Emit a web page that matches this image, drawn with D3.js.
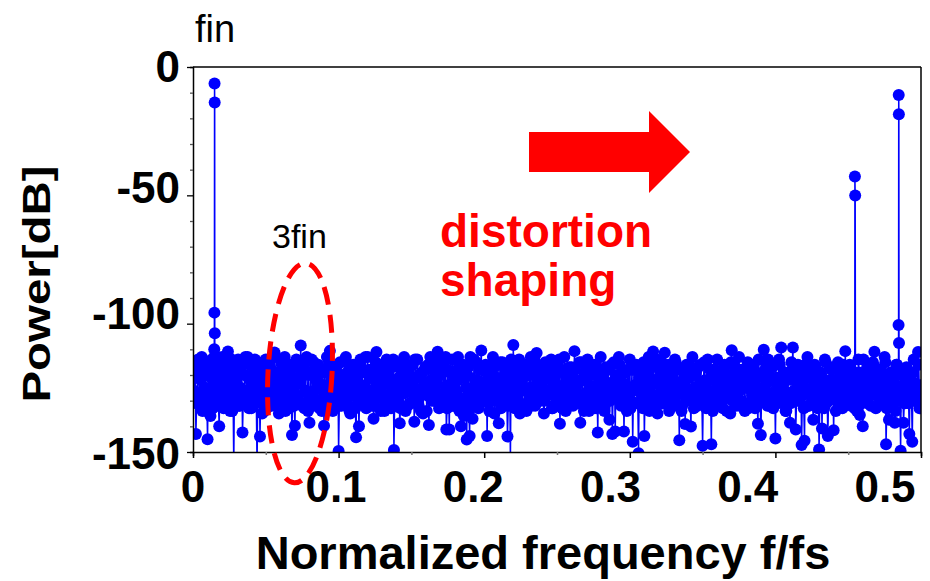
<!DOCTYPE html>
<html lang="en">
<head>
  <meta charset="UTF-8">
  <title>Output spectrum</title>
  <script src="https://d3js.org/d3.v7.min.js"></script>
  <style>
    body { margin: 0; background: #fff; font-family: "Liberation Sans", Arial, sans-serif; }
    svg text { font-family: "Liberation Sans", Arial, sans-serif; }
  </style>
</head>
<body>
  <div id="chart"></div>

  <script>
    // noise floor: one value per bin on the 0.001 fs grid ...
    const binStep = 0.001;
    const noiseDb = [
      -121, -115, -143, -128, -117, -132, -113, -126, -119, -134,
      -145, -118, -136, -114, -129, -123, -131, -116, -140, -127,
      -113, -133, -120, -125, -110.8, -130, -117, -134, -155, -122,
      -128, -114, -132, -119, -142.4, -126, -113, -131, -121, -116,
      -133, -124, -118, -129, -156, -115, -144, -127, -120, -134,
      -114, -130, -123, -117, -132, -126, -111.2, -129, -119, -135,
      -122, -116, -131, -113, -127, -120, -133, -118, -143.4, -125,
      -139.8, -114, -129, -121, -108.5, -132, -117, -126, -113, -134,
      -138.6, -119, -128, -115, -131, -122, -116, -133, -124, -118,
      -139.8, -127, -113, -130, -110.6, -125, -134, -117, -121, -129,
      -149.6, -115, -132, -120, -126, -113, -131, -118, -135, -123,
      -116, -128, -144.3, -121, -140, -114, -130, -125, -119, -133,
      -113, -127, -118, -132, -137, -122, -111, -129, -116, -134,
      -124, -119, -131, -114, -128, -121, -133, -117, -149.2, -126,
      -115, -130, -138.8, -120, -127, -113, -134, -123, -118, -131,
      -125, -116, -138.2, -129, -114, -132, -121, -119, -135, -124,
      -117, -128, -139.5, -113, -130, -122, -126, -115, -110.9, -133,
      -120, -129, -116, -131, -141.2, -118, -141.2, -125, -114, -132,
      -123, -127, -113, -134, -140, -119, -136, -121, -145.1, -117,
      -143.8, -126, -137, -114, -130, -122, -133, -118, -110.5, -128,
      -124, -116, -143.8, -131, -119, -127, -113, -135, -121, -129,
      -138.8, -115, -132, -123, -117, -130, -144, -120, -153, -126,
      -108.3, -133, -118, -128, -114, -131, -122, -125, -116, -134,
      -120, -129, -113, -127, -119, -132, -111.4, -124, -117, -130,
      -122, -135, -115, -128, -121, -126, -114, -133, -119, -131,
      -116, -125, -139, -118, -130, -113, -134, -123, -120, -128,
      -117, -132, -110.7, -126, -122, -129, -138.6, -115, -131, -121,
      -127, -114, -134, -119, -125, -130, -116, -133, -142.4, -122,
      -113, -128, -120, -131, -124, -118, -137.4, -126, -143, -115,
      -142, -121, -129, -116, -132, -123, -142, -119, -134, -127,
      -114, -130, -146, -118, -125, -131, -150.5, -122, -117, -133,
      -143.8, -120, -128, -113, -132, -124, -110.8, -129, -116, -135,
      -121, -127, -115, -131, -111.3, -126, -119, -134, -122, -117,
      -130, -114, -128, -123, -145.4, -118, -132, -125, -139.1, -116,
      -129, -121, -140.1, -113, -133, -120, -127, -117, -131, -124,
      -147.6, -115, -130, -122, -126, -118, -147, -134, -121, -128,
      -114, -131, -119, -125, -133, -116, -129, -123, -120, -135,
      -110.4, -127, -117, -132, -124, -113, -130, -121, -118, -134,
      -125, -115, -131, -122, -128, -116, -133, -120, -139, -126,
      -143.4, -119, -110.2, -130, -123, -114, -132, -127, -117, -129,
      -144.7, -121, -125, -116, -109.3, -131, -119, -134, -122, -128,
      -138.6, -115, -109.3, -126, -141.2, -120, -130, -124, -147.3, -118,
      -145.6, -127, -113, -132, -121, -129, -137.4, -116, -125, -133,
      -149, -119, -140.8, -126, -114, -131, -143.8, -122, -128, -117,
      -141.5, -124, -130, -115, -127, -121, -133, -118, -110.7, -129,
      -123, -116, -132, -125, -119, -128, -134, -114, -135.6, -126,
      -140, -120, -129, -117, -131, -122, -127, -115, -110.9, -133,
      -124, -118, -130, -121, -126, -113, -147, -128, -137.4, -119,
      -132, -123, -138.6, -116, -129, -125, -149.5, -120, -138.6, -131,
      -117, -127, -143, -122, -146, -114, -130, -124, -111, -133,
      -126
    ];

    // ... and the bins half-way between them, all inside the dense band
    const noiseMidDb = [
      -126, -119, -131, -114, -128, -122, -134, -117, -125, -130,
      -116, -129, -121, -133, -113, -127, -120, -132, -118, -124,
      -131, -115, -128, -123, -119, -134, -114, -126, -121, -129,
      -118, -132, -125, -116, -130, -120, -127, -113, -133, -122,
      -127, -121, -114, -131, -124, -118, -129, -135, -116, -123,
      -133, -117, -126, -120, -128, -113, -131, -124, -119, -127,
      -115, -130, -122, -134, -118, -125, -116, -129, -121, -132,
      -124, -128, -117, -123, -131, -119, -133, -115, -127, -120,
      -129, -114, -132, -126, -120, -130, -123, -118, -134, -125,
      -119, -131, -124, -115, -127, -133, -117, -128, -122, -116,
      -132, -120, -128, -125, -114, -129, -121, -134, -118, -126,
      -123, -133, -116, -130, -126, -117, -124, -131, -113, -128,
      -130, -118, -126, -121, -132, -115, -129, -123, -127, -119,
      -116, -134, -120, -128, -117, -131, -125, -114, -130, -122,
      -128, -121, -133, -118, -124, -127, -116, -132, -120, -126,
      -121, -127, -114, -131, -129, -120, -134, -119, -125, -117,
      -134, -116, -125, -122, -118, -130, -123, -127, -115, -131,
      -118, -130, -127, -113, -133, -124, -119, -128, -132, -121,
      -126, -122, -117, -129, -121, -116, -131, -125, -120, -134,
      -113, -128, -131, -124, -115, -132, -126, -118, -129, -123,
      -129, -119, -122, -134, -127, -121, -117, -130, -124, -116,
      -122, -133, -115, -126, -120, -128, -132, -121, -114, -127,
      -131, -117, -129, -119, -135, -123, -116, -126, -133, -120,
      -117, -125, -132, -128, -114, -130, -122, -119, -127, -124,
      -127, -130, -120, -116, -126, -118, -133, -124, -121, -129,
      -124, -114, -128, -133, -119, -127, -121, -131, -117, -125,
      -130, -126, -118, -123, -131, -115, -129, -122, -134, -119,
      -115, -131, -124, -120, -127, -133, -118, -125, -121, -132,
      -128, -120, -134, -117, -123, -126, -130, -116, -128, -122,
      -120, -127, -113, -130, -125, -119, -124, -132, -118, -126,
      -133, -118, -126, -124, -116, -131, -121, -127, -130, -115,
      -125, -129, -119, -134, -122, -117, -128, -123, -114, -131,
      -118, -124, -131, -120, -129, -126, -116, -133, -125, -121,
      -132, -115, -127, -123, -118, -134, -122, -120, -128, -126,
      -121, -130, -117, -128, -125, -119, -132, -124, -116, -129,
      -126, -122, -133, -114, -131, -127, -120, -118, -130, -123,
      -119, -128, -124, -130, -117, -122, -134, -126, -121, -115,
      -130, -116, -129, -121, -127, -132, -118, -123, -125, -131,
      -117, -133, -120, -126, -119, -128, -124, -131, -114, -127,
      -128, -121, -125, -117, -132, -120, -129, -116, -133, -122,
      -123, -131, -114, -129, -124, -126, -119, -134, -120, -127,
      -131, -118, -127, -122, -130, -116, -125, -121, -128, -133,
      -116, -126, -132, -119, -121, -129, -123, -117, -131, -124,
      -129, -120, -123, -133, -115, -127, -130, -125, -118, -122,
      -122, -134, -118, -125, -128, -121, -116, -132, -126, -119,
      -127, -117, -130, -120, -133, -124, -128, -119, -123, -131,
      -114, -129, -125, -131, -118, -132, -121, -126, -117, -128,
      -132, -123, -119, -127, -122, -115, -133, -120, -129, -125,
      -120, -126, -134, -116, -130, -128, -118, -124, -131, -121,
      -125, -131, -122, -128, -119, -123, -127, -130, -116, -124
    ];

    // tones: fin, and the shaped distortion near fs/2
    const spikeFreqs  = [0.0146, 0.0147, 0.0148, 0.0149, 0.01495, 0.4546, 0.4548, 0.4846, 0.4847, 0.4848, 0.4849];
    const spikeDb     = [-110, -95.7, -6.4, -13.8, -103.7, -42.7, -50.1, -100.5, -10.9, -18.4, -107.5];

    const xTicks = [0, 0.1, 0.2, 0.3, 0.4, 0.5];
    const yTicks = [0, -50, -100, -150];

    const width = 930, height = 581;
    const svg = d3.select("#chart").append("svg")
      .attr("width", width)
      .attr("height", height);

    const x = d3.scaleLinear().domain([0, 0.5]).range([193, 921]);
    const y = d3.scaleLinear().domain([-150, 0]).range([452, 67]);
    // the tick labels in the figure sit a little off the ticks
    const xLabel = d3.scaleLinear().domain([0, 0.1, 0.5]).range([193, 336, 885]);
    const yLabel = d3.scaleLinear().domain([0, -50, -100, -150]).range([66, 187, 313, 453]);

    const points = noiseDb.map((v, i) => ({ f: i * binStep, v: v }))
      .concat(noiseMidDb.map((v, i) => ({ f: (i + 0.5) * binStep, v: v })))
      .concat(spikeFreqs.map((f, i) => ({ f: f, v: spikeDb[i] })))
      .sort((a, b) => a.f - b.f);

    svg.append("clipPath").attr("id", "plotClip")
      .append("rect")
      .attr("x", x(0)).attr("y", y(0))
      .attr("width", x(0.5) - x(0)).attr("height", y(-150) - y(0));

    const plot = svg.append("g").attr("clip-path", "url(#plotClip)");

    plot.append("path")
      .datum(points)
      .attr("fill", "none")
      .attr("stroke", "#0000ff")
      .attr("stroke-width", 1.5)
      .attr("d", d3.line().x(d => x(d.f)).y(d => y(d.v)));

    plot.selectAll("circle")
      .data(points)
      .enter()
      .append("circle")
      .attr("cx", d => x(d.f))
      .attr("cy", d => y(d.v))
      .attr("r", 6)
      .attr("fill", "#0000ff");

    // frame
    svg.append("line")
      .attr("x1", x(0)).attr("x2", x(0.5)).attr("y1", y(0)).attr("y2", y(0))
      .attr("stroke", "#000").attr("stroke-width", 1.5);
    svg.append("line")
      .attr("x1", x(0.5)).attr("x2", x(0.5)).attr("y1", y(0)).attr("y2", y(-150))
      .attr("stroke", "#000").attr("stroke-width", 1.5);

    // x axis
    const xAxis = svg.append("g")
      .attr("transform", `translate(0,${y(-150)})`)
      .call(d3.axisBottom(x).tickValues(d3.range(0, 0.51, 0.05)).tickSize(4).tickFormat(""));
    xAxis.select(".domain").attr("stroke", "#000").attr("stroke-width", 1.5);
    xAxis.selectAll(".tick line")
      .attr("stroke", (d, i) => i % 2 ? "#777" : "#000")
      .attr("stroke-width", 1.5)
      .attr("y2", (d, i) => i % 2 ? 3 : 6);

    svg.append("g").selectAll("text")
      .data(xTicks)
      .enter()
      .append("text")
      .attr("x", d => xLabel(d))
      .attr("y", 502)
      .attr("text-anchor", "middle")
      .attr("font-size", 44)
      .attr("font-weight", "bold")
      .text(d => d === 0 ? "0" : d3.format(".1f")(d));

    // y axis
    const yAxis = svg.append("g")
      .attr("transform", `translate(${x(0)},0)`)
      .call(d3.axisLeft(y).tickValues(d3.range(-150, 1, 10)).tickSize(3).tickFormat(""));
    yAxis.select(".domain").attr("stroke", "#000").attr("stroke-width", 1.5);
    yAxis.selectAll(".tick line")
      .attr("stroke", d => d % 50 === 0 ? "#000" : "#555")
      .attr("stroke-width", 1.3)
      .attr("x2", d => d % 50 === 0 ? -6 : -3);

    svg.append("g").selectAll("text")
      .data(yTicks)
      .enter()
      .append("text")
      .attr("x", 180)
      .attr("y", d => yLabel(d))
      .attr("dy", "0.36em")
      .attr("text-anchor", "end")
      .attr("font-size", 44)
      .attr("font-weight", "bold")
      .text(d => d);

    // axis titles
    svg.append("text")
      .attr("x", 543).attr("y", 569)
      .attr("text-anchor", "middle")
      .attr("font-size", 47)
      .attr("font-weight", "bold")
      .text("Normalized frequency f/fs");

    svg.append("text")
      .attr("transform", "translate(50,284) rotate(-90)")
      .attr("text-anchor", "middle")
      .attr("font-size", 38)
      .attr("font-weight", "bold")
      .attr("textLength", 237)
      .attr("lengthAdjust", "spacingAndGlyphs")
      .text("Power[dB]");

    // annotations
    svg.append("text")
      .attr("x", 195).attr("y", 42)
      .attr("font-size", 38)
      .text("fin");

    svg.append("text")
      .attr("x", 272).attr("y", 248)
      .attr("font-size", 34)
      .text("3fin");

    svg.append("ellipse")
      .attr("cx", 300).attr("cy", 373)
      .attr("rx", 32).attr("ry", 110)
      .attr("transform", "rotate(3,300,373)")
      .attr("fill", "none")
      .attr("stroke", "#ff0000")
      .attr("stroke-width", 5)
      .attr("stroke-dasharray", "18 10");

    svg.append("text")
      .attr("x", 440).attr("y", 247)
      .attr("font-size", 46)
      .attr("font-weight", "bold")
      .attr("fill", "#ff0000")
      .text("distortion");
    svg.append("text")
      .attr("x", 440).attr("y", 296)
      .attr("font-size", 46)
      .attr("font-weight", "bold")
      .attr("fill", "#ff0000")
      .text("shaping");

    svg.append("polygon")
      .attr("points", "529,132 649,132 649,111 690,152 649,193 649,172 529,172")
      .attr("fill", "#ff0000");
  </script>
</body>
</html>
